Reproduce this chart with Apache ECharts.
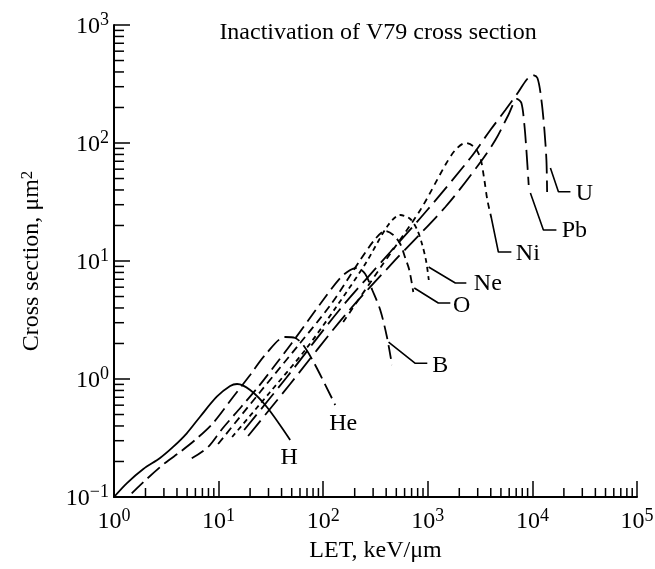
<!DOCTYPE html>
<html><head><meta charset="utf-8">
<script src="https://cdn.jsdelivr.net/npm/echarts@6/dist/echarts.min.js"></script>
<style>html,body{margin:0;padding:0;background:#fff}#c{width:655px;height:569px}</style>
</head><body><div id="c"></div>
<script>
// ---- data (LET keV/um, cross section um^2) ----
const xTickExponents = [0, 1, 2, 3, 4, 5];
const yTickExponents = [-1, 0, 1, 2, 3];
const curveNames = ['H', 'He', 'B', 'O', 'Ne', 'Ni', 'Pb', 'U'];

const hCurve = [[1,0.1],[1.323,0.1306],[1.907,0.1727],[2.755,0.214],[3.694,0.2668],[4.963,0.3466],[6.653,0.4792],[9.611,0.7079],[12.89,0.8723],[15.03,0.9071],[20.02,0.8069],[28.93,0.5789],[48.33,0.3041]];
const heCurve = [[1.477,0.1075],[2.056,0.1421],[3.076,0.1941],[4.28,0.2406],[5.961,0.3041],[8.859,0.4238],[13.76,0.7037],[20.02,1.081],[27.86,1.597],[43.29,2.27],[53.97,2.226],[64.37,1.942],[83.83,1.314],[130.3,0.6023]];
const bCurve = [[5.54,0.2128],[7.935,0.2653],[10.8,0.377],[16.42,0.5789],[23.88,0.8555],[34.73,1.314],[50.17,2.019],[93.6,4.322],[145.4,7.176],[181.3,8.39],[211.5,8.724],[252.3,7.759],[294.4,5.678],[351.1,3.844],[406.9,2.27],[454.4,1.314]];
const oCurve = [[9.891,0.2812],[24.95,0.7757],[60.25,2.019],[119.3,4.322],[226,10.2],[314.5,15.36],[392,17.96],[467.7,16.61],[545.6,13.94],[609.1,10.6],[665.3,8.39],[726.4,5.462]];
const neCurve = [[13.47,0.3226],[31.11,0.7757],[67.25,1.761],[133.1,4.076],[252.3,9.432],[418.8,20.19],[545.6,24.54],[680.1,22.7],[793.4,18.31],[886,13.67],[967.5,9.807],[1022,6.902]];
const niCurve = [[155.4,3.041],[351.1,8.724],[847.7,27.05],[1471,65.11],[1833,87.24],[2285,100],[2786,92.49],[3180,74.64],[3473,48.58],[3710,32.88],[4053,23.14]];
const pbCurve = [[19.15,0.3288],[48.33,0.9071],[162.4,3.486],[488.7,10.2],[1471,28.68],[3043,65.11],[4425,106],[5893,172.7],[7138,236],[7849,218.3],[8383,142.1],[8761,87.24],[9216,44.07]];
const uCurve = [[17.54,0.3697],[44.25,1.02],[145.4,3.92],[437.7,11.92],[989,27.05],[2551,74.64],[3965,128.9],[5516,190.4],[7345,270.5],[8761,342],[10000,376.9],[11166,355.5],[12195,231.4],[13026,128.9],[13614,71.77],[13826,38.44]];

const leaderB = [[421.6,2.058],[759.2,1.359],[989,1.359]];
const leaderO = [[742.6,5.904],[1260,4.406],[1642,4.406]];
const leaderNe = [[1018,8.896],[1833,6.508],[2336,6.508]];
const leaderNi = [[4053,23.14],[4727,11.92],[6297,11.92]];
const leaderPb = [[9569,37.7],[12742,18.31],[16967,18.31]];
const leaderU = [[14867,61.4],[17735,38.67],[23101,38.67]];

const labelNames = ['H','He','B','O','Ne','Ni','Pb','U'];
const labelPoints = [[47.28,0.2162],[155.4,0.4156],[1317,1.301],[2115,4.197],[3751,6.47],[9057,11.62],[25223,17.96],[31450,36.97]];

// ---- styling ----
const FONT = '"Liberation Serif", "Times New Roman", serif';
const INK = '#000000';
const X_MIN = 1, X_MAX = 1e5, Y_MIN = 0.1, Y_MAX = 1e3;

const curves = [
  {name:'H', data:hCurve, dash:'solid'},
  {name:'He', data:heCurve, dash:[16,6]},
  {name:'B', data:bCurve, dash:[14,6]},
  {name:'O', data:oCurve, dash:[8,5]},
  {name:'Ne', data:neCurve, dash:[5,4]},
  {name:'Ni', data:niCurve, dash:[6,5]},
  {name:'Pb', data:pbCurve, dash:[20,7]},
  {name:'U', data:uCurve, dash:[20,7]}
];
const leaders = [leaderB, leaderO, leaderNe, leaderNi, leaderPb, leaderU];

function minorValues(lo, hi) {
  const out = [];
  for (let e = lo; e < hi; e++) for (let k = 2; k <= 9; k++) out.push(k * Math.pow(10, e));
  return out;
}
const xMinor = minorValues(0, 5);
const yMinor = minorValues(-1, 3);

function supLabel(v) {
  const e = Math.round(Math.log10(v));
  const s = e < 0 ? '\u2212' + (-e) : String(e);
  return '{b|10}{s|' + s + '}';
}
const richTick = {
  b: {fontFamily: FONT, fontSize: 24, color: INK, verticalAlign: 'bottom'},
  s: {fontFamily: FONT, fontSize: 18, color: INK, verticalAlign: 'top', padding: [0, 0, 9, 0]}
};

function tickSeries(axis, values, len) {
  return {
    type: 'custom', silent: true, clip: false, z: 5,
    data: values.map(v => axis === 'x' ? [v, Y_MIN] : [X_MIN, v]),
    renderItem: (params, api) => {
      const p = api.coord([api.value(0), api.value(1)]);
      const shape = axis === 'x'
        ? {x1: p[0], y1: p[1], x2: p[0], y2: p[1] - len}
        : {x1: p[0], y1: p[1], x2: p[0] + len, y2: p[1]};
      return {type: 'line', shape: shape, style: {stroke: INK, lineWidth: 1.5}};
    }
  };
}

const series = [];
curves.forEach(c => series.push({
  name: c.name, type: 'line', data: c.data, smooth: 0.3, symbol: 'none',
  lineStyle: {color: INK, width: 1.8, type: c.dash, opacity: 1}, z: 3
}));
leaders.forEach((d, i) => series.push({
  name: 'leader' + i, type: 'line', data: d, symbol: 'none',
  lineStyle: {color: INK, width: 1.6, type: 'solid', opacity: 1}, z: 3
}));
series.push({
  name: 'labels', type: 'scatter', symbol: 'circle', symbolSize: 0.1,
  itemStyle: {color: 'rgba(0,0,0,0)'},
  data: labelPoints.map((p, i) => ({name: labelNames[i], value: p})),
  label: {show: true, position: [0, 0], align: 'center', verticalAlign: 'middle',
    formatter: p => p.name, fontFamily: FONT, fontSize: 24, color: INK,
    opacity: 1, textBorderWidth: 0, textBorderColor: 'transparent'},
  labelLayout: {hideOverlap: false},
  z: 4
});
series.push(tickSeries('x', xMinor, 9));
series.push(tickSeries('y', yMinor, 10));

const chart = echarts.init(document.getElementById('c'), null, {renderer: 'canvas'});
chart.setOption({
  animation: false,
  backgroundColor: '#fff',
  grid: {left: 114, right: 18, top: 25, bottom: 72, containLabel: false, outerBoundsMode: 'none'},
  graphic: [{
    type: 'text', x: 378, y: 33, silent: true,
    style: {text: 'Inactivation of V79 cross section', font: '24px ' + FONT, fill: INK,
      textAlign: 'center', textVerticalAlign: 'middle'}
  }],
  xAxis: {
    type: 'log', logBase: 10, min: X_MIN, max: X_MAX,
    name: 'LET, keV/\u03bcm', nameLocation: 'middle', nameGap: 41,
    nameTextStyle: {fontFamily: FONT, fontSize: 24, color: INK},
    axisLine: {show: true, lineStyle: {color: INK, width: 2}},
    axisTick: {show: true, inside: true, length: 16, lineStyle: {color: INK, width: 1.5}},
    minorTick: {show: false},
    splitLine: {show: false},
    axisLabel: {margin: 10, formatter: supLabel, rich: richTick}
  },
  yAxis: {
    type: 'log', logBase: 10, min: Y_MIN, max: Y_MAX,
    name: 'Cross section, \u03bcm{s|2}', nameLocation: 'middle', nameGap: 70, nameRotate: 90,
    nameTextStyle: {fontFamily: FONT, fontSize: 24, color: INK,
      rich: {s: {fontFamily: FONT, fontSize: 17, color: INK, verticalAlign: 'top', padding: [0, 0, 8, 0]}}},
    axisLine: {show: true, lineStyle: {color: INK, width: 2}},
    axisTick: {show: true, inside: true, length: 16, lineStyle: {color: INK, width: 1.5}},
    minorTick: {show: false},
    splitLine: {show: false},
    axisLabel: {margin: 5, formatter: supLabel, rich: richTick}
  },
  series: series
});
</script>
</body></html>
